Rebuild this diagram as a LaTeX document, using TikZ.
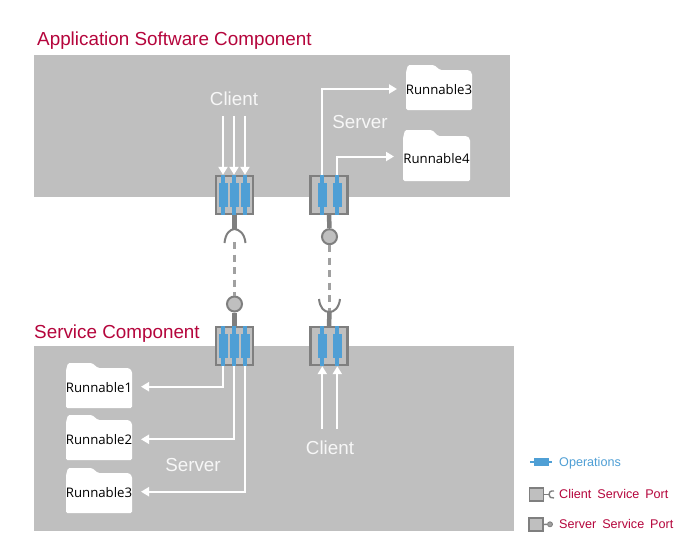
\documentclass[tikz,border=0pt]{standalone}
\usepackage{fontspec}
\setmainfont{Liberation Sans}
\newfontfamily\runfont{Open Sans}
\newfontfamily\legendfont[WordSpace=1.7]{Liberation Sans}
\usetikzlibrary{arrows.meta,calc}
\definecolor{bggray}{HTML}{BFBFBF}
\definecolor{portgray}{HTML}{7F7F7F}
\definecolor{dashgray}{HTML}{A0A0A0}
\definecolor{opblue}{HTML}{4F9FD5}
\definecolor{crim}{HTML}{B5053C}
\definecolor{softwhite}{HTML}{F7F7F7}
\tikzset{
  svcport/.style={draw=portgray,fill=bggray,line width=2.2pt,minimum width=37pt,minimum height=37.5pt,inner sep=0pt},
  opthin/.style={fill=opblue,draw=none,minimum width=4pt,minimum height=40pt,inner sep=0pt},
  opthick/.style={fill=opblue,draw=none,minimum width=9pt,minimum height=24pt,inner sep=0pt},
  flow/.style={draw=white,line width=2pt,-{Triangle[length=8pt,width=9pt,fill=white]}},
  stem/.style={draw=portgray,line width=4.5pt},
  socket/.style={draw=portgray,line width=2pt},
  ball/.style={circle,draw=portgray,fill=bggray,line width=2pt,minimum size=15pt,inner sep=0pt},
  link/.style={draw=dashgray,line width=2.2pt,dash pattern=on 7pt off 5.5pt},
  flowlabel/.style={text=softwhite,font=\fontsize{18.8}{20}\selectfont,inner sep=0pt},
  titlelabel/.style={text=crim,font=\fontsize{18.85}{20}\selectfont,inner sep=0pt,anchor=west},
  runlabel/.style={text=black,font=\runfont\fontsize{13.2}{14}\selectfont,inner sep=0pt},
  legendlabel/.style={font=\legendfont\fontsize{12.6}{14}\selectfont,inner sep=0pt,anchor=west},
}
\newcommand{\opset}[2]{%
  \node[opthin] (#1thin) at (#2) {};
  \node[opthick] (#1) at (#2) {};
}
\newcommand{\folderat}[8]{% name,left,right,top,bodytop,bottom,tabend,text
  \fill[white,rounded corners=1.5pt] (#2,#6) -- (#2,#5+2) -- (#2+2,#4) -- (#7-1,#4) -- (#7+5,#5) -- (#3-3,#5) -- (#3,#5+3) -- (#3,#6) -- cycle;
  \node[runlabel] (#1) at ({(#2+#3)/2},{(#5+#6)/2}) {#8};
}
\begin{document}
\begin{tikzpicture}[x=1pt,y=-1pt]
\useasboundingbox (0,0) rectangle (697,549);
\fill[white] (0,0) rectangle (697,549);
% panels
\fill[bggray] (34,55) rectangle (510,197);
\fill[bggray] (34,346) rectangle (514,531);
% titles
\node[titlelabel] (apptitle) at (37,40.5) {Application Software Component};
\node[titlelabel] (svctitle) at (34,334) {Service Component};
% folders
\folderat{runa}{406}{472}{65}{70}{110}{435}{Runnable3}
\folderat{runb}{403}{470}{130}{136}{181}{433}{Runnable4}
\folderat{runc}{66}{132}{363}{368}{408}{93}{Runnable1}
\folderat{rund}{66}{132}{415}{420}{460}{93}{Runnable2}
\folderat{rune}{66}{132}{468}{473}{513}{93}{Runnable3}
% ports
\node[svcport] (ptl) at (234.5,195) {};
\node[svcport] (ptr) at (329,195) {};
\node[svcport] (pbl) at (234.5,346) {};
\node[svcport] (pbr) at (329,346) {};
% operations
\opset{tla}{223,195}\opset{tlb}{234,195}\opset{tlc}{245,195}
\opset{tra}{322.3,195}\opset{trb}{337.3,195}
\opset{bla}{223.3,346}\opset{blb}{234,346}\opset{blc}{245,346}
\opset{bra}{322.3,346}\opset{brb}{337.3,346}
% assembly
\coordinate (sockt) at (234.5,229);
\coordinate (sockb) at (329.5,312);
\coordinate (linkt) at (234.5,242);
\node[ball] (ballt) at (329.5,236.7) {};
\node[ball] (ballb) at (234.5,304) {};
\draw[link] (linkt) -- (ballb.north);
\draw[link] (ballt.south) -- (sockb);
\draw[stem] (ptl.south) -- (sockt);
\draw[stem] (ptr.south) -- (ballt.north);
\draw[stem] (pbl.north) -- (ballb.south);
\draw[stem] (pbr.north) -- (sockb);
\draw[socket] (224.5,243) .. controls (225.5,233) and (230,229.5) .. (sockt) .. controls (239,229.5) and (244.5,233) .. (245.5,243);
\draw[socket] (319,299) .. controls (320,308) and (324,312) .. (sockb) .. controls (334,312) and (339,308) .. (340,299);
% client arrows top
\coordinate (cla) at (223,116);
\coordinate (clb) at (234,116);
\coordinate (clc) at (245,116);
\draw[flow] (cla) -- (tlathin.north);
\draw[flow] (clb) -- (tlbthin.north);
\draw[flow] (clc) -- (tlcthin.north);
% server arrows top
\coordinate (sa) at (397,89);
\coordinate (sb) at (394,156.5);
\draw[flow] (trathin.north) |- (sa);
\draw[flow] (trbthin.north) |- (sb);
% server arrows bottom
\coordinate (ea) at (141,386.7);
\coordinate (eb) at (141,439.3);
\coordinate (ec) at (141,491.7);
\draw[flow] (blathin.south) |- (ea);
\draw[flow] (blbthin.south) |- (eb);
\draw[flow] (blcthin.south) |- (ec);
% client arrows bottom
\coordinate (da) at (322.3,429);
\coordinate (db) at (337.3,429);
\draw[flow] (da) -- (brathin.south);
\draw[flow] (db) -- (brbthin.south);
% flow labels
\node[flowlabel] (lc1) at (234,99) {Client};
\node[flowlabel] (ls1) at (360,122.5) {Server};
\node[flowlabel] (ls2) at (193,465) {Server};
\node[flowlabel] (lc2) at (330,447.5) {Client};
% legend
\fill[opblue] (530,461) rectangle (552,463);
\fill[opblue] (534,458) rectangle (549,466);
\node[legendlabel,text=opblue] (lop) at (559,463.5) {Operations};
\node[draw=portgray,fill=bggray,line width=1.4pt,minimum width=14pt,minimum height=13pt,inner sep=0pt] (lpc) at (536.5,494.5) {};
\draw[portgray,line width=1.4pt] (lpc.east) -- (549,494.5);
\draw[portgray,line width=1.4pt] (554,491) .. controls (550,490.5) and (549,492.5) .. (549,494.5) .. controls (549,497) and (551,498.5) .. (554,498);
\node[legendlabel,text=crim] (lcs) at (559,493.5) {Client Service Port};
\node[draw=portgray,fill=bggray,line width=1.4pt,minimum width=14pt,minimum height=13pt,inner sep=0pt] (lps) at (536,524.5) {};
\node[circle,fill=dashgray,draw=portgray,line width=.8pt,minimum size=5pt,inner sep=0pt] (lball) at (550,524.3) {};
\draw[portgray,line width=1.4pt] (lps.east) -- (lball.west);
\node[legendlabel,text=crim] (lss) at (559,523.5) {Server Service Port};
\end{tikzpicture}
\end{document}
